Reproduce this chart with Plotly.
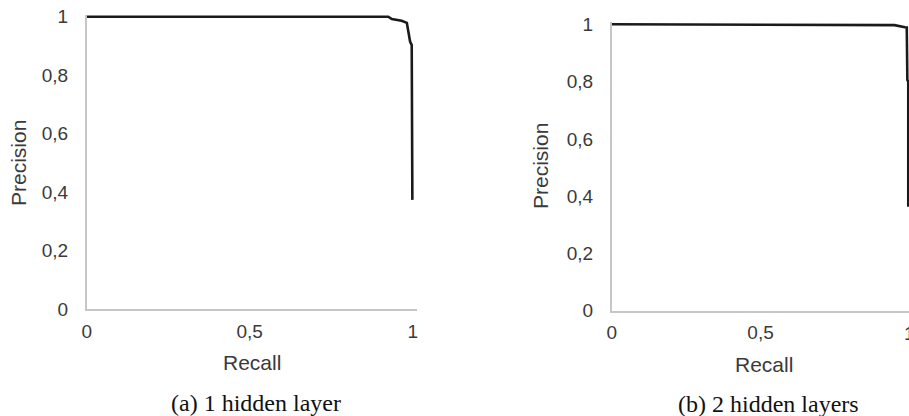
import plotly.graph_objects as go

# Panel (a): 1 hidden layer
recall_a = [0.0, 0.925, 0.936, 0.966, 0.982, 0.987, 0.992, 0.997, 0.998, 0.999]
precision_a = [1.0, 1.0, 0.992, 0.986, 0.979, 0.949, 0.915, 0.903, 0.397, 0.374]

# Panel (b): 2 hidden layers
recall_b = [0.0, 0.95, 0.985, 0.991, 0.993, 0.996, 0.996]
precision_b = [1.0, 0.997, 0.99, 0.989, 0.806, 0.80, 0.363]

y_tickvals = [0, 0.2, 0.4, 0.6, 0.8, 1]
y_ticktext = ["0", "0,2", "0,4", "0,6", "0,8", "1"]
x_tickvals = [0, 0.5, 1]
x_ticktext = ["0", "0,5", "1"]

captions = ["(a) 1 hidden layer", "(b) 2 hidden layers"]
x_title = "Recall"
y_title = "Precision"

W, H = 909, 416
LINE = "#1a1a1a"
AXIS = "#c6c6c6"
TXT = "#3a3a3a"
tickfont = dict(family="Liberation Sans, Arial, sans-serif", size=19, color=TXT)

fig = go.Figure()
fig.add_trace(go.Scatter(x=recall_a, y=precision_a, mode="lines",
                         line=dict(color=LINE, width=2.6), xaxis="x", yaxis="y",
                         cliponaxis=False, showlegend=False))
fig.add_trace(go.Scatter(x=recall_b, y=precision_b, mode="lines",
                         line=dict(color=LINE, width=2.6), xaxis="x2", yaxis="y2",
                         cliponaxis=False, showlegend=False))

def xax(domain, rng, anchor, vals, text):
    return dict(domain=domain, range=rng, anchor=anchor, showgrid=False, zeroline=False,
                showline=True, linecolor=AXIS, linewidth=1.6, ticks="",
                tickvals=vals, ticktext=text, tickfont=tickfont,
                ticklabelstandoff=4, automargin=False)

def yax(domain, rng, anchor):
    return dict(domain=domain, range=rng, anchor=anchor, showgrid=False, zeroline=False,
                showline=True, linecolor=AXIS, linewidth=1.6, ticks="",
                tickvals=y_tickvals, ticktext=y_ticktext, tickfont=tickfont,
                ticklabelstandoff=13, automargin=False)

# left panel geometry (pixels)
lx0, lx1 = 86.7, 416.6
ly0, ly1 = 309.3, 15.0
# right panel geometry (its x=1 end sits at the very edge of the picture)
rx0, rx1 = 611.7, 909.0
ry0, ry1 = 310.7, 22.0
r_span = (rx1 - rx0) / 0.9985  # pixels per recall unit in the right panel

fig.update_layout(
    template="none",
    width=W, height=H, autosize=False,
    margin=dict(l=0, r=0, t=0, b=0, pad=0),
    paper_bgcolor="white", plot_bgcolor="white",
    xaxis=xax([lx0 / W, lx1 / W], [0, (lx1 - lx0) / 326.0], "y", x_tickvals, x_ticktext),
    yaxis=yax([1 - ly0 / H, 1 - ly1 / H], [0, (ly0 - ly1) / 292.6], "x"),
    xaxis2=xax([rx0 / W, 1.0], [0, 0.9985], "y2", x_tickvals[:2], x_ticktext[:2]),
    yaxis2=yax([1 - ry0 / H, 1 - ry1 / H], [0, (ry0 - ry1) / 286.4], "x2"),
)

title_font = dict(family="Liberation Sans, Arial, sans-serif", size=21, color=TXT)
cap_font = dict(family="Liberation Serif, Times New Roman, serif", size=24, color="#111111")

ann = [
    dict(text=y_title, x=18 / W, y=1 - 163 / H, textangle=-90, font=title_font),
    dict(text=x_title, x=251.7 / W, y=1 - 362.7 / H, font=title_font),
    dict(text=captions[0], x=256 / W, y=1 - 403 / H, font=cap_font),
    dict(text=y_title, x=540 / W, y=1 - 166 / H, textangle=-90, font=title_font),
    dict(text=x_title, x=763.5 / W, y=1 - 364 / H, font=title_font),
    dict(text=captions[1], x=768.5 / W, y=1 - 404 / H, font=cap_font),
]
for a in ann:
    a.update(xref="paper", yref="paper", xanchor="center", yanchor="middle", showarrow=False)
# the right panel's last x tick label "1" lies on the picture's edge (half cut off)
ann.append(dict(text=x_ticktext[2], x=(rx0 + x_tickvals[2] * r_span) / W, xref="paper",
                y=1 - 333 / H, yref="paper",
                xanchor="center", yanchor="middle", showarrow=False, font=tickfont))
fig.update_layout(annotations=ann)

fig.write_html("out.html", config={"displayModeBar": False},
               post_script="document.body.style.margin='0';document.body.style.overflow='hidden';")
